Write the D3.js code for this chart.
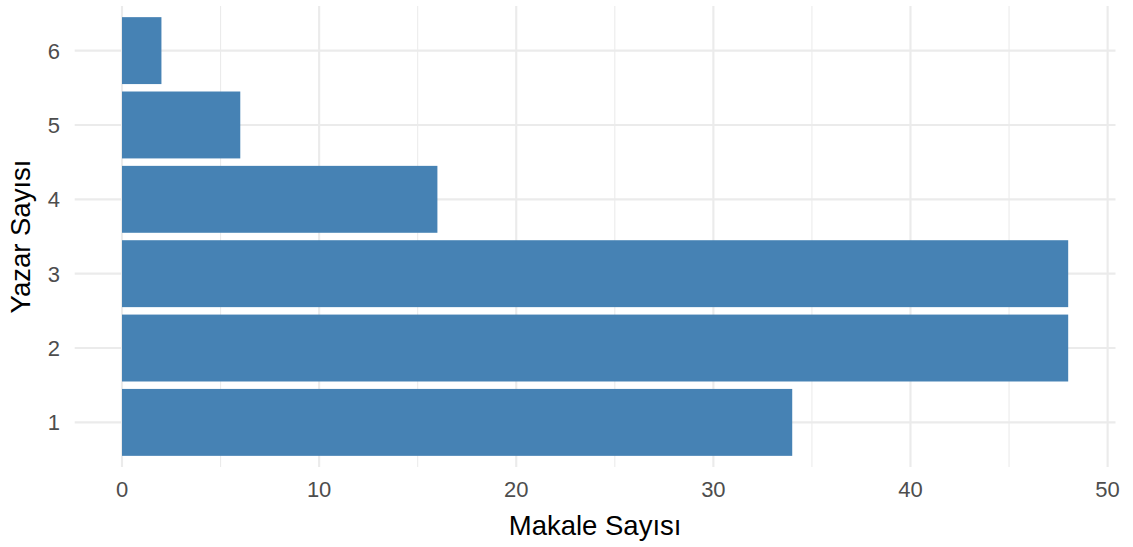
<!DOCTYPE html>
<html><head><meta charset="utf-8">
<script src="https://cdn.jsdelivr.net/npm/d3@7"></script>
<style>body{margin:0;background:#fff;}svg{display:block;font-family:"Liberation Sans",Arial,Helvetica,sans-serif;}</style>
</head><body>
<script>
const categories = [1, 2, 3, 4, 5, 6];
const values = [34, 48, 48, 16, 6, 2];
const xTicks = [0, 10, 20, 30, 40, 50];
const xMinor = [5, 15, 25, 35, 45];
const xTitle = "Makale Sayısı";
const yTitle = "Yazar Sayısı";

const W = 1133, H = 547;
const panel = {left: 74.7, right: 1115.5, top: 6, bottom: 467};
const svg = d3.select("body").append("svg").attr("width", W).attr("height", H);

const xMax = d3.max(values);
const pad = xMax * 0.05;
const x = d3.scaleLinear().domain([-pad, xMax + pad]).range([panel.left, panel.right]);
const y = d3.scaleLinear().domain([0.4, categories.length + 0.6]).range([panel.bottom, panel.top]);

const g = svg.append("g");
// minor grid
g.selectAll(".minor").data(xMinor).join("line")
  .attr("x1", d => x(d)).attr("x2", d => x(d))
  .attr("y1", panel.top).attr("y2", panel.bottom)
  .attr("stroke", "#EBEBEB").attr("stroke-width", 1.07);
// major grid
g.selectAll(".majorx").data(xTicks).join("line")
  .attr("x1", d => x(d)).attr("x2", d => x(d))
  .attr("y1", panel.top).attr("y2", panel.bottom)
  .attr("stroke", "#EBEBEB").attr("stroke-width", 2.13);
g.selectAll(".majory").data(categories).join("line")
  .attr("x1", panel.left).attr("x2", panel.right)
  .attr("y1", d => y(d)).attr("y2", d => y(d))
  .attr("stroke", "#EBEBEB").attr("stroke-width", 2.13);

// bars
g.selectAll(".bar").data(categories).join("rect")
  .attr("x", x(0))
  .attr("y", d => y(d + 0.45))
  .attr("width", (d, i) => x(values[i]) - x(0))
  .attr("height", d => y(d - 0.45) - y(d + 0.45))
  .attr("fill", "#4682B4");

// x axis labels
svg.selectAll(".xt").data(xTicks).join("text")
  .attr("x", d => x(d)).attr("y", 497)
  .attr("text-anchor", "middle").attr("fill", "#4D4D4D")
  .attr("font-size", 22).text(d => d);
// y axis labels
svg.selectAll(".yt").data(categories).join("text")
  .attr("x", 60).attr("y", d => y(d) + 8)
  .attr("text-anchor", "end").attr("fill", "#4D4D4D")
  .attr("font-size", 22).text(d => d);

// titles
svg.append("text").attr("x", (panel.left + panel.right) / 2).attr("y", 535)
  .attr("text-anchor", "middle").attr("fill", "#000").attr("font-size", 27.5).text(xTitle);
svg.append("text").attr("transform", `translate(30,${(panel.top + panel.bottom) / 2}) rotate(-90)`)
  .attr("text-anchor", "middle").attr("fill", "#000").attr("font-size", 27.5).text(yTitle);
</script>
</body></html>
